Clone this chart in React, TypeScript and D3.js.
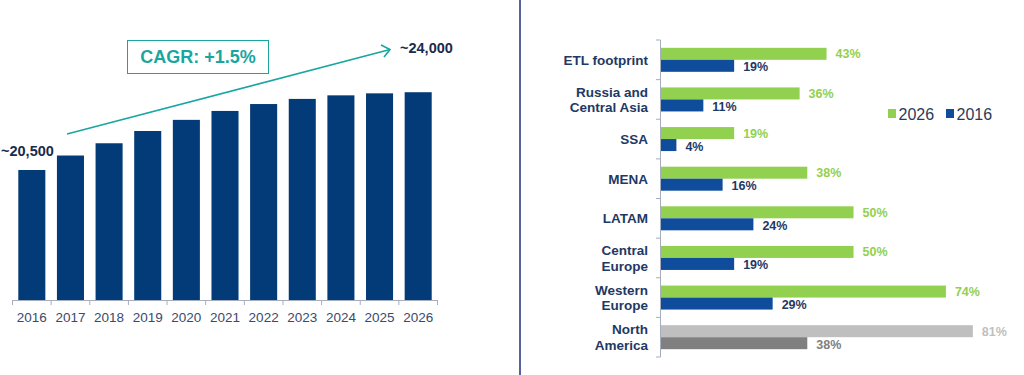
import React from "react";
import * as d3 from "d3";

const years = ["2016","2017","2018","2019","2020","2021","2022","2023","2024","2025","2026"];
const volumes = [20500, 21150, 21700, 22250, 22750, 23150, 23460, 23690, 23850, 23940, 23990];

const regions = ["ETL footprint", "Russia and\nCentral Asia", "SSA", "MENA", "LATAM", "Central\nEurope", "Western\nEurope", "North\nAmerica"];
const share2026 = [43, 36, 19, 38, 50, 50, 74, 81];
const share2016 = [19, 11, 4, 16, 24, 19, 29, 38];
const legendLabels = ["2026", "2016"];

const FONT = "'Liberation Sans', Arial, sans-serif";
const NAVY = "#033b78";
const BLUE = "#0f4c9b";
const GREEN = "#92d050";
const TEAL = "#1aa6a0";
const LABEL = "#1f3864";

export default function App() {
  // left chart
  const x = d3.scaleBand<string>().domain(years).range([12.5, 437.5]).paddingInner(0.3).paddingOuter(0.15);
  const y = d3.scaleLinear().domain([14667, 24000]).range([300, 92]);
  const tickXs = years.map((yr) => (x(yr) as number) - (x.step() * x.paddingInner()) / 2);
  tickXs.push(437.5);

  // right chart
  const yb = d3.scaleBand<string>().domain(regions).range([40, 357]);
  const xb = d3.scaleLinear().domain([0, 100]).range([661, 1046]);
  const barH = 12;

  const first = volumes[0];
  const last = volumes[volumes.length - 1];

  return (
    <svg width={1024} height={375} style={{ position: "absolute", left: 0, top: 0, fontFamily: FONT }}>
      <rect width={1024} height={375} fill="#fff" />
      {/* Left bars */}
      {years.map((yr, i) => (
        <rect key={yr} x={x(yr)} y={y(volumes[i])} width={x.bandwidth()} height={300 - y(volumes[i])} fill={NAVY} />
      ))}
      <line x1={12.5} x2={437.5} y1={300.5} y2={300.5} stroke="#a6adbd" strokeWidth={1} />
      {tickXs.map((tx, i) => (
        <line key={i} x1={tx} x2={tx} y1={300} y2={305} stroke="#a6adbd" />
      ))}
      {years.map((yr) => (
        <text key={yr} x={(x(yr) as number) + x.bandwidth() / 2} y={321.5} textAnchor="middle" fontSize={13.5} fill="#3b4a6b">{yr}</text>
      ))}
      <text x={1} y={155.5} fontSize={14.5} fontWeight="bold" fill="#1b2a4a">~{d3.format(",")(first)}</text>
      <text x={400} y={53} fontSize={14.5} fontWeight="bold" fill="#1b2a4a">~{d3.format(",")(Math.round(last / 500) * 500)}</text>
      {/* CAGR arrow */}
      <line x1={67} y1={134} x2={390} y2={49.5} stroke={TEAL} strokeWidth={1.6} />
      <polyline points="381,45 390,49.5 384,57" fill="none" stroke={TEAL} strokeWidth={1.6} />
      <rect x={127.5} y={40.5} width={141} height={33} fill="#fff" stroke={TEAL} strokeWidth={1} />
      <text x={198} y={63} textAnchor="middle" fontSize={18} fontWeight="bold" fill={TEAL}>CAGR: +1.5%</text>

      {/* Divider */}
      <line x1={520} x2={520} y1={0} y2={375} stroke="#1f2d7a" strokeWidth={1.5} />

      {/* Right chart */}
      {regions.map((r, i) => {
        const c = (yb(r) as number) + yb.bandwidth() / 2;
        const na = i === regions.length - 1;
        const g = na ? "#bfbfbf" : GREEN;
        const b = na ? "#808080" : BLUE;
        const gl = na ? "#bfbfbf" : GREEN;
        const bl = na ? "#808080" : LABEL;
        const lines = r.split("\n");
        return (
          <g key={r}>
            <rect x={xb(0)} y={c - barH} width={xb(share2026[i]) - xb(0)} height={barH} fill={g} />
            <rect x={xb(0)} y={c} width={xb(share2016[i]) - xb(0)} height={barH} fill={b} />
            <text x={xb(share2026[i]) + 9} y={c - 1.5} fontSize={12.5} fontWeight="bold" fill={gl}>{share2026[i]}%</text>
            <text x={xb(share2016[i]) + 9} y={c + 11.5} fontSize={12.5} fontWeight="bold" fill={bl}>{share2016[i]}%</text>
            {lines.map((ln, k) => (
              <text key={k} x={648} y={c + 5 + (k - (lines.length - 1) / 2) * 15.6} textAnchor="end" fontSize={13.5} fontWeight="bold" fill={LABEL}>{ln}</text>
            ))}
          </g>
        );
      })}
      <line x1={660.5} x2={660.5} y1={40} y2={357} stroke="#a6adbd" />
      {regions.map((r) => (
        <line key={r} x1={656} x2={660.5} y1={(yb(r) as number)} y2={(yb(r) as number)} stroke="#a6adbd" />
      ))}
      <line x1={656} x2={660.5} y1={357} y2={357} stroke="#a6adbd" />

      {/* Legend */}
      {legendLabels.map((l, i) => (
        <g key={l} transform={`translate(${888 + i * 58},109)`}>
          <rect x={0} y={0} width={8} height={9} fill={i === 0 ? GREEN : BLUE} />
          <text x={10.5} y={10.5} fontSize={16} fill="#2b3a5a">{l}</text>
        </g>
      ))}
    </svg>
  );
}
